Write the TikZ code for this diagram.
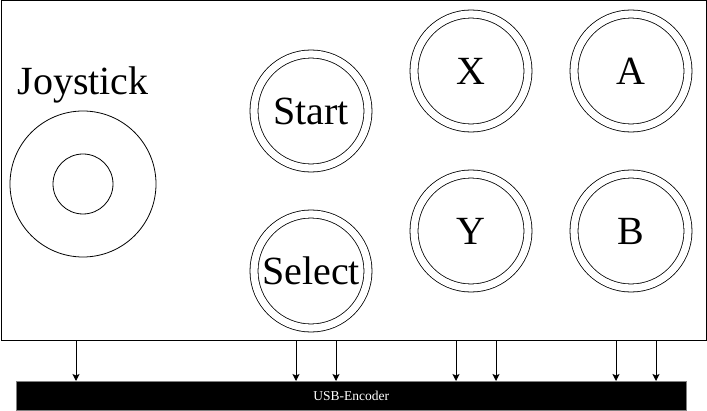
\documentclass[tikz,border=0pt]{standalone}
\usepackage{fontspec}
\setmainfont{Liberation Serif}
\usepackage{tikz}
\usetikzlibrary{arrows}
\usetikzlibrary{arrows.meta}
\usetikzlibrary{positioning}

\begin{document}
\begin{tikzpicture}[x=1pt, y=-1pt,
  button/.style={circle, draw=black, line width=0.8pt, double, double distance=7.2pt, minimum size=114pt, inner sep=0pt, font=\fontsize{40}{40}\selectfont},
  wire/.style={-{Stealth[length=7pt, width=7pt, inset=1.5pt]}, draw=black, line width=1pt}]
\useasboundingbox (0,0) rectangle (707,411);
\node [rectangle, draw=black, line width=1pt, minimum width=705pt, minimum height=340pt, inner sep=0pt, anchor=north west] (panel) at (0.5,0.5) {};
\node [anchor=base, font=\fontsize{40}{40}\selectfont] (JL) at (83,95) {Joystick};
\node [circle, draw=black, line width=0.8pt, minimum size=146pt, inner sep=0pt] (J) at (83,184) {};
\node [circle, draw=black, line width=0.8pt, minimum size=60pt, inner sep=0pt] (JK) at (J.center) {};
\node [button] (Start) at (311,111) {Start};
\node [button] (Select) at (311,271) {Select};
\node [button] (X) at (471,71) {X};
\node [button] (Y) at (471,231) {Y};
\node [button] (A) at (631,71) {A};
\node [button] (B) at (631,231) {B};
\node [rectangle, fill=black, draw=gray, minimum width=670pt, minimum height=29pt, inner sep=0pt, anchor=north west, text=white, font=\fontsize{13.5}{13.5}\selectfont] (Enc) at (16,381) {USB-Encoder};
\foreach \x in {76,296,336,456,496,616,656}
  \draw [wire] (panel.south -| \x,0) to (Enc.north -| \x,0);
\end{tikzpicture}
\end{document}
